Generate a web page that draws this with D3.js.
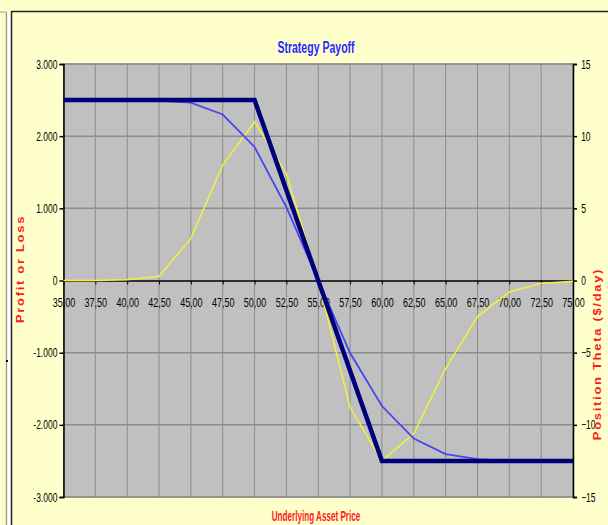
<!DOCTYPE html>
<html>
<head>
<meta charset="utf-8">
<script src="https://cdnjs.cloudflare.com/ajax/libs/d3/7.8.5/d3.min.js"></script>
<style>
  body { margin: 0; background: #ffffcc; }
  svg { display: block; }
</style>
</head>
<body>
<script>
const w = 608;
const h = 525;

// underlying prices
const prices = [35, 37.5, 40, 42.5, 45, 47.5, 50, 52.5, 55, 57.5, 60, 62.5, 65, 67.5, 70, 72.5, 75];
// payoff at expiry (left axis)
const expiryPL = [2500, 2500, 2500, 2500, 2500, 2500, 2500, 1250, 0, -1250, -2500, -2500, -2500, -2500, -2500, -2500, -2500];
// payoff today (left axis)
const currentPL = [2500, 2500, 2498, 2490, 2465, 2300, 1850, 1015, 0, -1005, -1740, -2190, -2405, -2475, -2495, -2500, -2500];
// position theta (right axis)
const theta = [0, 0, 0.05, 0.3, 2.9, 8.0, 11.0, 7.4, 0, -8.8, -12.5, -10.6, -6.1, -2.5, -0.8, -0.2, -0.05];

const leftTicks = [-3000, -2000, -1000, 0, 1000, 2000, 3000];
const rightTicks = [-15, -10, -5, 0, 5, 10, 15];

const loc = d3.formatLocale({ decimal: ",", thousands: ".", grouping: [3], currency: ["", ""], minus: "-" });
const fmtK = loc.format(",.0f");
const fmtP = loc.format(".2f");

const font = '"Liberation Sans", Arial, sans-serif';
const squeeze = 0.68; // the whole picture looks squashed sideways

const svg = d3.select('body').append('svg')
  .attr('width', w)
  .attr('height', h)
  .style('background-color', '#ffffcc');

// frame bits
svg.append('line').attr('x1', 6.5).attr('x2', 6.5).attr('y1', 12).attr('y2', h).attr('stroke', '#999').attr('stroke-width', 1.5);
svg.append('rect').attr('x', 7.5).attr('y', 12).attr('width', 3).attr('height', h).attr('fill', '#fff');
svg.append('line').attr('x1', 0).attr('x2', 6).attr('y1', 12).attr('y2', 12).attr('stroke', '#999');
svg.append('line').attr('x1', 11.5).attr('x2', 11.5).attr('y1', 11).attr('y2', h).attr('stroke', '#222').attr('stroke-width', 1.5);
svg.append('line').attr('x1', 11).attr('x2', w).attr('y1', 11.5).attr('y2', 11.5).attr('stroke', '#222').attr('stroke-width', 1.5);
svg.append('rect').attr('x', 6).attr('y', 360).attr('width', 2).attr('height', 2).attr('fill', '#000');

const pLeft = 63.5, pRight = 573, pTop = 64, pBottom = 497;

const x = d3.scalePoint().domain(prices).range([pLeft, pRight]);
const yL = d3.scaleLinear().domain([-3000, 3000]).range([pBottom, pTop]);
const yR = d3.scaleLinear().domain([-15, 15]).range([pBottom, pTop]);

// plot area
svg.append('rect')
  .attr('x', pLeft).attr('y', pTop)
  .attr('width', pRight - pLeft).attr('height', pBottom - pTop)
  .attr('fill', '#c0c0c0')
  .attr('stroke', '#808080');

// gridlines
svg.append('g').selectAll('line').data(prices.slice(1, -1)).enter().append('line')
  .attr('x1', d => x(d)).attr('x2', d => x(d))
  .attr('y1', pTop).attr('y2', pBottom)
  .attr('stroke', '#8c8c8c').attr('stroke-width', 1);
svg.append('g').selectAll('line').data(leftTicks.filter(d => d !== 0)).enter().append('line')
  .attr('x1', pLeft).attr('x2', pRight)
  .attr('y1', d => yL(d)).attr('y2', d => yL(d))
  .attr('stroke', '#8c8c8c').attr('stroke-width', 1.5);

// left axis
const gl = svg.append('g')
  .attr('transform', `translate(${pLeft},0)`)
  .call(d3.axisLeft(yL).tickValues(leftTicks).tickFormat(fmtK).tickSize(4).tickPadding(5));
// right axis
const gr = svg.append('g')
  .attr('transform', `translate(${pRight},0)`)
  .call(d3.axisRight(yR).tickValues(rightTicks).tickSize(4).tickPadding(8));

[gl, gr].forEach(g => {
  g.select('.domain').attr('stroke', '#000').attr('stroke-width', 1.5);
  g.selectAll('.tick line').attr('stroke', '#000').attr('stroke-width', 1.5);
  g.selectAll('text').style('font-family', font).style('font-size', '12.5px').attr('fill', '#000')
    .attr('transform', `scale(${squeeze},1)`);
});

// category axis sitting on the zero line
const gx = svg.append('g')
  .attr('transform', `translate(0,${yL(0)})`)
  .call(d3.axisBottom(x).tickFormat(fmtP).tickSize(4).tickPadding(14).tickSizeOuter(0));
gx.select('.domain').attr('stroke', '#000').attr('stroke-width', 1.5);
gx.selectAll('.tick line').attr('stroke', '#000');
gx.selectAll('text').style('font-family', font).style('font-size', '12.5px').attr('fill', '#000')
  .attr('transform', `scale(${squeeze + 0.04},1)`);

// series
const lineL = d3.line().x((d, i) => x(prices[i])).y(d => yL(d));
const lineR = d3.line().x((d, i) => x(prices[i])).y(d => yR(d));

svg.append('path').datum(theta).attr('d', lineR)
  .attr('fill', 'none').attr('stroke', '#f2f23c').attr('stroke-width', 1.5);
svg.append('path').datum(currentPL).attr('d', lineL)
  .attr('fill', 'none').attr('stroke', '#4545f5').attr('stroke-width', 1.8);
svg.append('path').datum(expiryPL).attr('d', lineL)
  .attr('fill', 'none').attr('stroke', '#00007a').attr('stroke-width', 4.5);

// titles
svg.append('text')
  .attr('transform', `translate(316,53) scale(0.62,1)`)
  .attr('text-anchor', 'middle')
  .style('font-family', font).style('font-size', '17px').style('font-weight', 'bold')
  .attr('fill', '#2a2aff')
  .text('Strategy Payoff');

svg.append('text')
  .attr('transform', `translate(316,521) scale(0.58,1)`)
  .attr('text-anchor', 'middle')
  .style('font-family', font).style('font-size', '14px').style('font-weight', 'bold')
  .attr('fill', '#ff1a1a')
  .text('Underlying Asset Price');

svg.append('text')
  .attr('transform', 'translate(24,269) rotate(-90) scale(1,0.85)')
  .attr('text-anchor', 'middle')
  .style('font-family', font).style('font-size', '13px').style('font-weight', 'bold')
  .style('letter-spacing', '1.7px')
  .attr('fill', '#ff1a1a')
  .text('Profit or Loss');

svg.append('text')
  .attr('transform', 'translate(601,354) rotate(-90) scale(1,0.85)')
  .attr('text-anchor', 'middle')
  .style('font-family', font).style('font-size', '13px').style('font-weight', 'bold')
  .style('letter-spacing', '1.7px')
  .attr('fill', '#ff1a1a')
  .text('Position Theta ($/day)');
</script>
</body>
</html>
